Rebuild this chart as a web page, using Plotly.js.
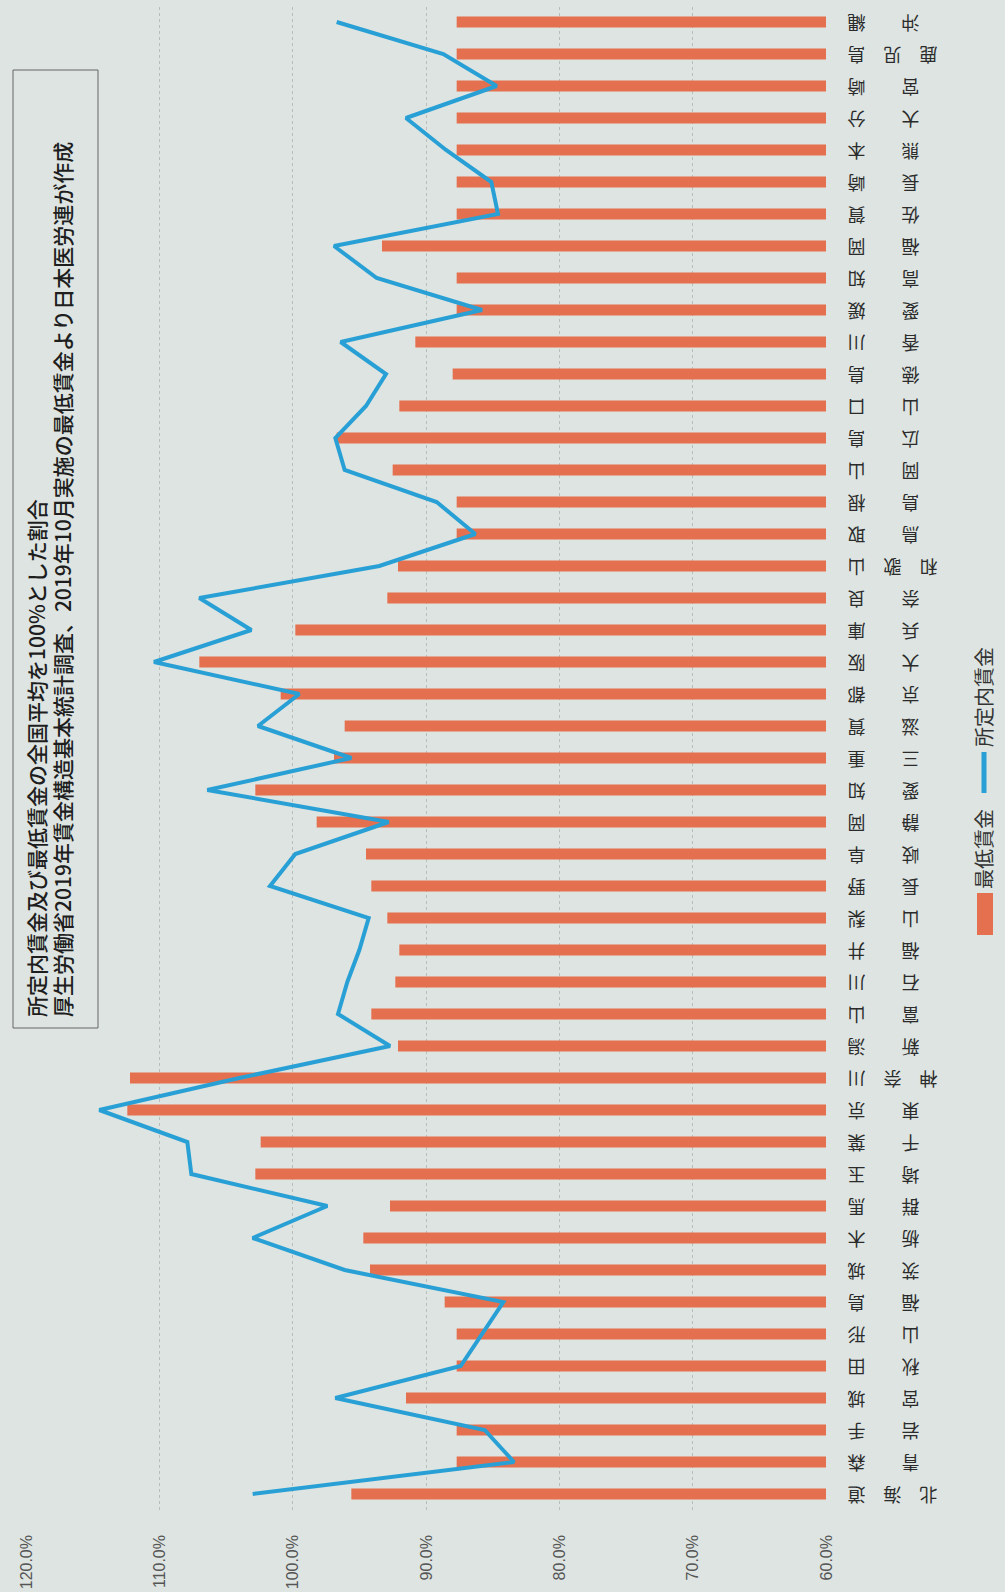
<!DOCTYPE html>
<html>
<head>
<meta charset="utf-8">
<script src="https://cdn.plot.ly/plotly-3.0.1.min.js"></script>
<style>
html,body{margin:0;padding:0;width:1005px;height:1592px;overflow:hidden;background:#dde4e1;}
#chart{position:absolute;left:0;top:0;width:1592px;height:1005px;transform-origin:0 0;transform:translateY(1592px) rotate(-90deg);}
</style>
</head>
<body>
<div id="chart"></div>
<script>
// ---- data (北海道 → 沖縄) ----
const prefectures = ["北海道","青森","岩手","宮城","秋田","山形","福島","茨城","栃木","群馬",
  "埼玉","千葉","東京","神奈川","新潟","富山","石川","福井","山梨","長野",
  "岐阜","静岡","愛知","三重","滋賀","京都","大阪","兵庫","奈良","和歌山",
  "鳥取","島根","岡山","広島","山口","徳島","香川","愛媛","高知","福岡",
  "佐賀","長崎","熊本","大分","宮崎","鹿児島","沖縄"];

// 最低賃金 (全国平均=100%)
const minWageRatio = [95.6,87.7,87.7,91.5,87.7,87.7,88.6,94.2,94.7,92.7,
  102.8,102.4,112.4,112.2,92.1,94.1,92.3,92.0,92.9,94.1,
  94.5,98.2,102.8,96.9,96.1,100.9,107.0,99.8,92.9,92.1,
  87.7,87.7,92.5,96.7,92.0,88.0,90.8,87.7,87.7,93.3,
  87.7,87.7,87.7,87.7,87.7,87.7,87.7];

// 所定内賃金 (全国平均=100%)
const wageRatio = [103.0,83.4,85.6,96.8,87.4,85.8,84.2,96.1,103.0,97.4,
  107.6,107.9,114.5,104.0,92.7,96.6,95.9,95.0,94.3,101.7,
  99.8,92.8,106.4,95.6,102.6,99.5,110.4,103.1,107.0,93.5,
  86.3,89.2,96.1,96.8,94.5,93.0,96.4,85.8,93.7,96.9,
  84.6,85.1,88.5,91.5,84.7,88.7,96.7];

const valueTicks = [60,70,80,90,100,110,120];
const seriesNames = ["最低賃金","所定内賃金"];
const titleLines = ["所定内賃金及び最低賃金の全国平均を100%とした割合",
  "厚生労働省2019年賃金構造基本統計調査、2019年10月実施の最低賃金より日本医労連が作成"];

// ---- styling / layout ----
const BG = "#dde4e1";
const BAR = "#e4704f";
const LINE = "#29a0d5";
const JP = "'Noto Sans CJK JP', 'Noto Sans', sans-serif";

const W = 1592, H = 1005;
const PL = 82, PR = 6, PT = 26, PB = 179;
const PW = W - PL - PR, PH = H - PT - PB;
const px = X => (X - PL) / PW;
const py = Y => (PT + PH - Y) / PH;

// label layout like the printed chart: characters spread with ideographic spaces
function labelText(name){
  const S = "\u3000";
  const c = Array.from(name);
  if (c.length === 2) return c[0] + S + S + c[1];
  return c.join(S);
}

const traces = [
  {
    type: "bar", name: seriesNames[0], x: prefectures, y: minWageRatio,
    width: 0.34, marker: {color: BAR}, showlegend: false, hoverinfo: "skip"
  },
  {
    type: "scatter", mode: "lines", name: seriesNames[1], x: prefectures, y: wageRatio,
    line: {color: LINE, width: 4}, showlegend: false, hoverinfo: "skip"
  }
];

const layout = {
  width: W, height: H,
  margin: {l: PL, r: PR, t: PT, b: PB},
  paper_bgcolor: BG, plot_bgcolor: BG,
  showlegend: false,
  xaxis: {
    type: "category", range: [-0.5, prefectures.length - 0.5],
    tickmode: "array", tickvals: prefectures, ticktext: prefectures.map(labelText),
    tickangle: -90, ticks: "", ticklabelstandoff: 17,
    tickfont: {family: JP, size: 18, color: "#2b2b2b"},
    showgrid: false, showline: false, zeroline: false, automargin: false, fixedrange: true
  },
  yaxis: {
    range: [60, 120], tickmode: "array", tickvals: valueTicks,
    ticktext: valueTicks.map(v => v.toFixed(1) + "%"),
    ticks: "", ticklabelstandoff: 24,
    tickfont: {family: "'Liberation Sans', Arial, sans-serif", size: 16, color: "#555"},
    showgrid: true, gridcolor: "rgba(110,110,110,0.32)", griddash: "dot", gridwidth: 1,
    zeroline: false, showline: false, automargin: false, fixedrange: true
  },
  shapes: [
    {type: "rect", xref: "paper", yref: "paper", x0: px(564), x1: px(1522), y0: py(98), y1: py(13),
     line: {color: "#666", width: 1}, fillcolor: BG, layer: "above"},
    {type: "rect", xref: "paper", yref: "paper", x0: px(657), x1: px(699), y0: py(993), y1: py(977),
     line: {width: 0}, fillcolor: BAR},
    {type: "line", xref: "paper", yref: "paper", x0: px(799), x1: px(840), y0: py(984), y1: py(984),
     line: {color: LINE, width: 5}}
  ],
  annotations: [
    {xref: "paper", yref: "paper", x: px(573), y: py(36), xanchor: "left", yanchor: "middle",
     text: titleLines[0], showarrow: false, font: {family: JP, size: 21, color: "#1e1e1e", weight: 500}},
    {xref: "paper", yref: "paper", x: px(573), y: py(62), xanchor: "left", yanchor: "middle",
     text: titleLines[1], showarrow: false, font: {family: JP, size: 21, color: "#1e1e1e", weight: 500}},
    {xref: "paper", yref: "paper", x: px(701), y: py(983), xanchor: "left", yanchor: "middle",
     text: seriesNames[0], showarrow: false, font: {family: JP, size: 20, color: "#333"}},
    {xref: "paper", yref: "paper", x: px(843), y: py(983), xanchor: "left", yanchor: "middle",
     text: seriesNames[1], showarrow: false, font: {family: JP, size: 20, color: "#333"}}
  ]
};

Plotly.newPlot("chart", traces, layout, {staticPlot: true, displayModeBar: false});
</script>
</body>
</html>
